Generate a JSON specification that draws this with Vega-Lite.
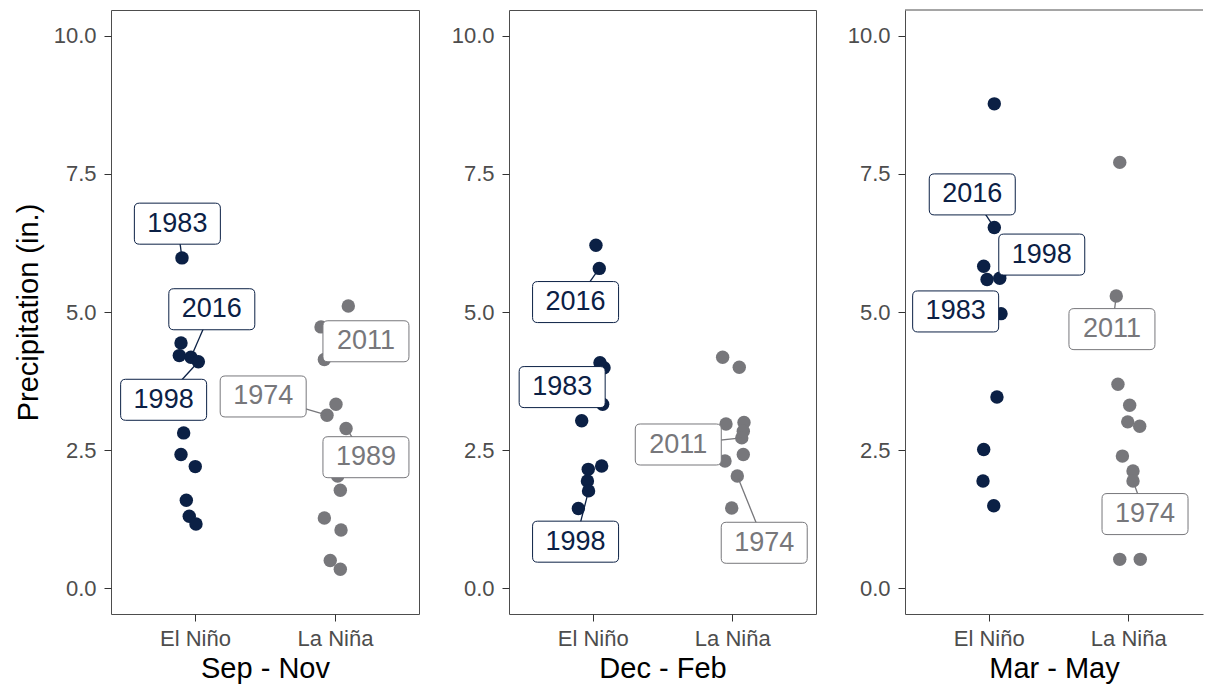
{
  "$schema": "https://vega.github.io/schema/vega-lite/v6.json",
  "background": "white",
  "padding": {"left": 13, "top": 9, "right": 0, "bottom": 0},
  "spacing": 28,
  "config": {
    "font": "Liberation Sans",
    "view": {"stroke": "#4d4d4d", "strokeWidth": 1},
    "axis": {
      "grid": false, "domain": false, "tickSize": 7, "tickColor": "#333333", "tickWidth": 1,
      "labelFontSize": 22, "labelColor": "#4d4d4d", "labelPadding": 7, "labelFlush": false,
      "titleFontSize": 29, "titleFontWeight": "normal", "titleColor": "#000000",
      "domainColor": "#4d4d4d", "domainWidth": 1
    },
    "axisY": {"minExtent": 60, "maxExtent": 60, "titlePadding": 8, "labelPadding": 8},
    "axisX": {"titlePadding": 5}
  },
  "datasets": {
    "points": [
      {"season": "Sep - Nov", "phase": "El Niño", "pos": 0.907, "precip": 5.98},
      {"season": "Sep - Nov", "phase": "El Niño", "pos": 0.900, "precip": 4.44},
      {"season": "Sep - Nov", "phase": "El Niño", "pos": 0.888, "precip": 4.21},
      {"season": "Sep - Nov", "phase": "El Niño", "pos": 0.971, "precip": 4.18},
      {"season": "Sep - Nov", "phase": "El Niño", "pos": 1.024, "precip": 4.10},
      {"season": "Sep - Nov", "phase": "El Niño", "pos": 0.919, "precip": 2.81},
      {"season": "Sep - Nov", "phase": "El Niño", "pos": 0.900, "precip": 2.42},
      {"season": "Sep - Nov", "phase": "El Niño", "pos": 1.002, "precip": 2.20},
      {"season": "Sep - Nov", "phase": "El Niño", "pos": 0.938, "precip": 1.59},
      {"season": "Sep - Nov", "phase": "El Niño", "pos": 0.959, "precip": 1.30},
      {"season": "Sep - Nov", "phase": "El Niño", "pos": 1.007, "precip": 1.16},
      {"season": "Sep - Nov", "phase": "La Niña", "pos": 2.095, "precip": 5.11},
      {"season": "Sep - Nov", "phase": "La Niña", "pos": 1.900, "precip": 4.73},
      {"season": "Sep - Nov", "phase": "La Niña", "pos": 1.924, "precip": 4.14},
      {"season": "Sep - Nov", "phase": "La Niña", "pos": 2.007, "precip": 3.33},
      {"season": "Sep - Nov", "phase": "La Niña", "pos": 1.943, "precip": 3.13},
      {"season": "Sep - Nov", "phase": "La Niña", "pos": 2.079, "precip": 2.89},
      {"season": "Sep - Nov", "phase": "La Niña", "pos": 2.019, "precip": 2.03},
      {"season": "Sep - Nov", "phase": "La Niña", "pos": 2.038, "precip": 1.77},
      {"season": "Sep - Nov", "phase": "La Niña", "pos": 1.924, "precip": 1.27},
      {"season": "Sep - Nov", "phase": "La Niña", "pos": 2.043, "precip": 1.05},
      {"season": "Sep - Nov", "phase": "La Niña", "pos": 1.966, "precip": 0.50},
      {"season": "Sep - Nov", "phase": "La Niña", "pos": 2.038, "precip": 0.34},
      {"season": "Dec - Feb", "phase": "El Niño", "pos": 1.023, "precip": 6.21},
      {"season": "Dec - Feb", "phase": "El Niño", "pos": 1.047, "precip": 5.79},
      {"season": "Dec - Feb", "phase": "El Niño", "pos": 1.052, "precip": 4.08},
      {"season": "Dec - Feb", "phase": "El Niño", "pos": 1.081, "precip": 3.99},
      {"season": "Dec - Feb", "phase": "El Niño", "pos": 1.071, "precip": 3.33},
      {"season": "Dec - Feb", "phase": "El Niño", "pos": 0.921, "precip": 3.03},
      {"season": "Dec - Feb", "phase": "El Niño", "pos": 1.064, "precip": 2.21},
      {"season": "Dec - Feb", "phase": "El Niño", "pos": 0.968, "precip": 2.15},
      {"season": "Dec - Feb", "phase": "El Niño", "pos": 0.962, "precip": 1.94},
      {"season": "Dec - Feb", "phase": "El Niño", "pos": 0.970, "precip": 1.76},
      {"season": "Dec - Feb", "phase": "El Niño", "pos": 0.897, "precip": 1.44},
      {"season": "Dec - Feb", "phase": "La Niña", "pos": 1.931, "precip": 4.18},
      {"season": "Dec - Feb", "phase": "La Niña", "pos": 2.050, "precip": 4.00},
      {"season": "Dec - Feb", "phase": "La Niña", "pos": 1.955, "precip": 2.97},
      {"season": "Dec - Feb", "phase": "La Niña", "pos": 2.084, "precip": 3.00},
      {"season": "Dec - Feb", "phase": "La Niña", "pos": 2.079, "precip": 2.84},
      {"season": "Dec - Feb", "phase": "La Niña", "pos": 2.068, "precip": 2.72},
      {"season": "Dec - Feb", "phase": "La Niña", "pos": 2.079, "precip": 2.42},
      {"season": "Dec - Feb", "phase": "La Niña", "pos": 1.948, "precip": 2.30},
      {"season": "Dec - Feb", "phase": "La Niña", "pos": 2.036, "precip": 2.03},
      {"season": "Dec - Feb", "phase": "La Niña", "pos": 1.996, "precip": 1.45},
      {"season": "Mar - May", "phase": "El Niño", "pos": 1.040, "precip": 8.77},
      {"season": "Mar - May", "phase": "El Niño", "pos": 1.040, "precip": 6.53},
      {"season": "Mar - May", "phase": "El Niño", "pos": 0.964, "precip": 5.83},
      {"season": "Mar - May", "phase": "El Niño", "pos": 0.988, "precip": 5.59},
      {"season": "Mar - May", "phase": "El Niño", "pos": 1.079, "precip": 5.61},
      {"season": "Mar - May", "phase": "El Niño", "pos": 1.088, "precip": 4.97},
      {"season": "Mar - May", "phase": "El Niño", "pos": 1.059, "precip": 3.46},
      {"season": "Mar - May", "phase": "El Niño", "pos": 0.964, "precip": 2.51},
      {"season": "Mar - May", "phase": "El Niño", "pos": 0.959, "precip": 1.94},
      {"season": "Mar - May", "phase": "El Niño", "pos": 1.036, "precip": 1.49},
      {"season": "Mar - May", "phase": "La Niña", "pos": 1.939, "precip": 7.71},
      {"season": "Mar - May", "phase": "La Niña", "pos": 1.914, "precip": 5.29},
      {"season": "Mar - May", "phase": "La Niña", "pos": 1.926, "precip": 3.69},
      {"season": "Mar - May", "phase": "La Niña", "pos": 2.010, "precip": 3.31},
      {"season": "Mar - May", "phase": "La Niña", "pos": 1.996, "precip": 3.01},
      {"season": "Mar - May", "phase": "La Niña", "pos": 2.082, "precip": 2.93},
      {"season": "Mar - May", "phase": "La Niña", "pos": 1.958, "precip": 2.39},
      {"season": "Mar - May", "phase": "La Niña", "pos": 2.034, "precip": 2.12},
      {"season": "Mar - May", "phase": "La Niña", "pos": 2.034, "precip": 1.94},
      {"season": "Mar - May", "phase": "La Niña", "pos": 1.939, "precip": 0.52},
      {"season": "Mar - May", "phase": "La Niña", "pos": 2.086, "precip": 0.52}
    ],
    "labels": [
      {"season": "Sep - Nov", "phase": "El Niño", "year": "1983", "pos": 0.874, "precip": 6.60, "pos_pt": 0.907, "precip_pt": 5.98},
      {"season": "Sep - Nov", "phase": "El Niño", "year": "2016", "pos": 1.120, "precip": 5.05, "pos_pt": 0.971, "precip_pt": 4.18},
      {"season": "Sep - Nov", "phase": "El Niño", "year": "1998", "pos": 0.776, "precip": 3.41, "pos_pt": 1.024, "precip_pt": 4.10},
      {"season": "Sep - Nov", "phase": "La Niña", "year": "2011", "pos": 2.221, "precip": 4.47, "pos_pt": 1.900, "precip_pt": 4.73},
      {"season": "Sep - Nov", "phase": "La Niña", "year": "1974", "pos": 1.487, "precip": 3.47, "pos_pt": 1.943, "precip_pt": 3.13},
      {"season": "Sep - Nov", "phase": "La Niña", "year": "1989", "pos": 2.221, "precip": 2.37, "pos_pt": 2.079, "precip_pt": 2.89},
      {"season": "Dec - Feb", "phase": "El Niño", "year": "2016", "pos": 0.877, "precip": 5.18, "pos_pt": 1.047, "precip_pt": 5.79},
      {"season": "Dec - Feb", "phase": "El Niño", "year": "1983", "pos": 0.781, "precip": 3.64, "pos_pt": 1.052, "precip_pt": 4.08},
      {"season": "Dec - Feb", "phase": "El Niño", "year": "1998", "pos": 0.877, "precip": 0.84, "pos_pt": 0.970, "precip_pt": 1.76},
      {"season": "Dec - Feb", "phase": "La Niña", "year": "2011", "pos": 1.613, "precip": 2.60, "pos_pt": 2.068, "precip_pt": 2.72},
      {"season": "Dec - Feb", "phase": "La Niña", "year": "1974", "pos": 2.229, "precip": 0.82, "pos_pt": 2.036, "precip_pt": 2.03},
      {"season": "Mar - May", "phase": "El Niño", "year": "2016", "pos": 0.882, "precip": 7.13, "pos_pt": 1.040, "precip_pt": 6.53},
      {"season": "Mar - May", "phase": "El Niño", "year": "1998", "pos": 1.380, "precip": 6.04, "pos_pt": 1.079, "precip_pt": 5.61},
      {"season": "Mar - May", "phase": "El Niño", "year": "1983", "pos": 0.763, "precip": 5.01, "pos_pt": 1.088, "precip_pt": 4.97},
      {"season": "Mar - May", "phase": "La Niña", "year": "2011", "pos": 1.883, "precip": 4.69, "pos_pt": 1.914, "precip_pt": 5.29},
      {"season": "Mar - May", "phase": "La Niña", "year": "1974", "pos": 2.120, "precip": 1.34, "pos_pt": 2.034, "precip_pt": 1.94}
    ]
  },
  "hconcat": [
    {
      "width": 308, "height": 604,
      "encoding": {
        "x": {"field": "pos", "type": "quantitative", "scale": {"domain": [0.4, 2.6], "nice": false, "zero": false},
              "axis": {"values": [1, 2], "labelExpr": "datum.value == 1 ? 'El Niño' : 'La Niña'", "title": "Sep - Nov"}},
        "y": {"field": "precip", "type": "quantitative", "scale": {"domain": [-0.47, 10.47], "nice": false, "zero": false},
              "axis": {"values": [0, 2.5, 5, 7.5, 10], "format": ".1f", "title": "Precipitation (in.)"}},
        "color": {"field": "phase", "type": "nominal", "scale": {"domain": ["El Niño", "La Niña"], "range": ["#0b2045", "#77777b"]}, "legend": null}
      },
      "layer": [
        {"data": {"name": "points"}, "transform": [{"filter": "datum.season === 'Sep - Nov'"}],
         "mark": {"type": "circle", "size": 180, "opacity": 1}},
        {"data": {"name": "labels"}, "transform": [{"filter": "datum.season === 'Sep - Nov'"}],
         "mark": {"type": "rule", "strokeWidth": 1.3},
         "encoding": {"x2": {"field": "pos_pt"}, "y2": {"field": "precip_pt"}}},
        {"data": {"name": "labels"}, "transform": [{"filter": "datum.season === 'Sep - Nov'"}],
         "mark": {"type": "point", "shape": "M -0.884 -0.477 L 0.884 -0.477 Q 1 -0.477 1 -0.361 L 1 0.361 Q 1 0.477 0.884 0.477 L -0.884 0.477 Q -1 0.477 -1 0.361 L -1 -0.361 Q -1 -0.477 -0.884 -0.477 Z",
                  "size": 7396, "filled": false, "fill": "white", "fillOpacity": 1, "strokeWidth": 1, "opacity": 1}},
        {"data": {"name": "labels"}, "transform": [{"filter": "datum.season === 'Sep - Nov'"}],
         "mark": {"type": "text", "fontSize": 27, "baseline": "middle", "align": "center"},
         "encoding": {"text": {"field": "year", "type": "nominal"}}}
      ]
    },
    {
      "width": 307, "height": 604,
      "encoding": {
        "x": {"field": "pos", "type": "quantitative", "scale": {"domain": [0.4, 2.6], "nice": false, "zero": false},
              "axis": {"values": [1, 2], "labelExpr": "datum.value == 1 ? 'El Niño' : 'La Niña'", "title": "Dec - Feb"}},
        "y": {"field": "precip", "type": "quantitative", "scale": {"domain": [-0.47, 10.47], "nice": false, "zero": false},
              "axis": {"values": [0, 2.5, 5, 7.5, 10], "format": ".1f", "title": null}},
        "color": {"field": "phase", "type": "nominal", "scale": {"domain": ["El Niño", "La Niña"], "range": ["#0b2045", "#77777b"]}, "legend": null}
      },
      "layer": [
        {"data": {"name": "points"}, "transform": [{"filter": "datum.season === 'Dec - Feb'"}],
         "mark": {"type": "circle", "size": 180, "opacity": 1}},
        {"data": {"name": "labels"}, "transform": [{"filter": "datum.season === 'Dec - Feb'"}],
         "mark": {"type": "rule", "strokeWidth": 1.3},
         "encoding": {"x2": {"field": "pos_pt"}, "y2": {"field": "precip_pt"}}},
        {"data": {"name": "labels"}, "transform": [{"filter": "datum.season === 'Dec - Feb'"}],
         "mark": {"type": "point", "shape": "M -0.884 -0.477 L 0.884 -0.477 Q 1 -0.477 1 -0.361 L 1 0.361 Q 1 0.477 0.884 0.477 L -0.884 0.477 Q -1 0.477 -1 0.361 L -1 -0.361 Q -1 -0.477 -0.884 -0.477 Z",
                  "size": 7396, "filled": false, "fill": "white", "fillOpacity": 1, "strokeWidth": 1, "opacity": 1}},
        {"data": {"name": "labels"}, "transform": [{"filter": "datum.season === 'Dec - Feb'"}],
         "mark": {"type": "text", "fontSize": 27, "baseline": "middle", "align": "center"},
         "encoding": {"text": {"field": "year", "type": "nominal"}}}
      ]
    },
    {
      "width": 298, "height": 604,
      "view": {"stroke": null},
      "layer": [
        {
          "encoding": {
            "x": {"field": "pos", "type": "quantitative", "scale": {"domain": [0.4, 2.5355], "nice": false, "zero": false},
                  "axis": {"values": [1, 2], "labelExpr": "datum.value == 1 ? 'El Niño' : 'La Niña'", "title": "Mar - May", "domain": true}},
            "y": {"field": "precip", "type": "quantitative", "scale": {"domain": [-0.47, 10.47], "nice": false, "zero": false},
                  "axis": {"values": [0, 2.5, 5, 7.5, 10], "format": ".1f", "title": null, "domain": true}},
            "color": {"field": "phase", "type": "nominal", "scale": {"domain": ["El Niño", "La Niña"], "range": ["#0b2045", "#77777b"]}, "legend": null}
          },
          "layer": [
            {"data": {"name": "points"}, "transform": [{"filter": "datum.season === 'Mar - May'"}],
             "mark": {"type": "circle", "size": 180, "opacity": 1}},
            {"data": {"name": "labels"}, "transform": [{"filter": "datum.season === 'Mar - May'"}],
             "mark": {"type": "rule", "strokeWidth": 1.3},
             "encoding": {"x2": {"field": "pos_pt"}, "y2": {"field": "precip_pt"}}},
            {"data": {"name": "labels"}, "transform": [{"filter": "datum.season === 'Mar - May'"}],
             "mark": {"type": "point", "shape": "M -0.884 -0.477 L 0.884 -0.477 Q 1 -0.477 1 -0.361 L 1 0.361 Q 1 0.477 0.884 0.477 L -0.884 0.477 Q -1 0.477 -1 0.361 L -1 -0.361 Q -1 -0.477 -0.884 -0.477 Z",
                      "size": 7396, "filled": false, "fill": "white", "fillOpacity": 1, "strokeWidth": 1, "opacity": 1}},
            {"data": {"name": "labels"}, "transform": [{"filter": "datum.season === 'Mar - May'"}],
             "mark": {"type": "text", "fontSize": 27, "baseline": "middle", "align": "center"},
             "encoding": {"text": {"field": "year", "type": "nominal"}}}
          ]
        },
        {
          "data": {"values": [{"edge": "top"}]},
          "mark": {"type": "rule", "color": "#4d4d4d", "strokeWidth": 1},
          "encoding": {"y": {"datum": 10.47}}
        }
      ]
    }
  ]
}
